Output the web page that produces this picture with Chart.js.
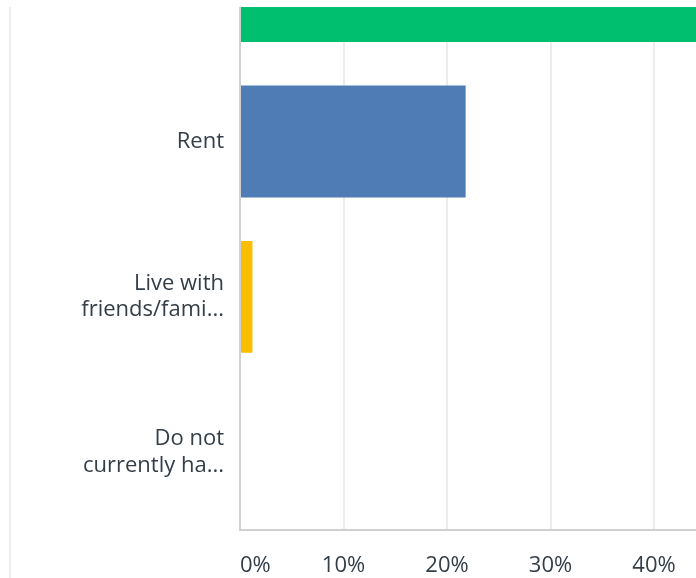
<!DOCTYPE html>
<html>
<head>
<meta charset="utf-8">
<script src="https://cdn.jsdelivr.net/npm/chart.js@4"></script>
<style>
  html, body { margin: 0; padding: 0; background: #fff; overflow: hidden; }
  body { width: 696px; height: 578px; position: relative; }
  /* panel edge on the left */
  #edge { position: absolute; left: 9px; top: 7px; width: 2px; height: 571px; background: #ededed; }
  /* the chart is larger than the visible panel, only part of it shows */
  #wrap { position: absolute; left: 0; top: 7px; width: 696px; height: 571px; overflow: hidden; }
  #chart { position: absolute; left: 0; top: -141px; }
</style>
</head>
<body>
<div id="edge"></div>
<div id="wrap">
  <canvas id="chart" width="1298" height="724"></canvas>
</div>
<script>
// Ответы на вопрос о жилье, в процентах
const categories = [
  'Own',
  'Rent',
  ['Live with', 'friends/fami...'],
  ['Do not', 'currently ha...']
];
const percents = [77.0, 21.8, 1.2, 0];
const barColors = ['#00bf6f', '#507cb6', '#f9be00', '#6bc8cd'];

const textColor = '#333e48';
const labelFont = { family: '"Open Sans", sans-serif', size: 22, lineHeight: 1.2 };

function createHousingChart() {
  const ctx = document.getElementById('chart').getContext('2d');
  new Chart(ctx, {
    type: 'bar',
    data: {
      labels: categories,
      datasets: [{
        data: percents,
        backgroundColor: barColors,
        borderWidth: 0,
        barPercentage: 0.72,
        categoryPercentage: 1
      }]
    },
    options: {
      indexAxis: 'y',
      responsive: false,
      animation: false,
      devicePixelRatio: 1,
      layout: { padding: 0 },
      plugins: {
        legend: { display: false },
        tooltip: { enabled: false }
      },
      scales: {
        y: {
          afterFit: (scale) => { scale.width = 240; },
          grid: { display: false, drawTicks: false },
          border: { color: '#d0d0d0', width: 2 },
          ticks: { color: textColor, font: labelFont, padding: 16 }
        },
        x: {
          min: 0,
          max: 100,
          afterFit: (scale) => { scale.height = 60; },
          grid: { color: '#ececec', lineWidth: 2, drawTicks: false },
          border: { color: '#d0d0d0', width: 2 },
          ticks: {
            stepSize: 10,
            align: 'inner',
            maxRotation: 0,
            padding: 23,
            color: textColor,
            font: labelFont,
            callback: (v) => v + '%'
          }
        }
      }
    }
  });
}

window.addEventListener('load', createHousingChart);
</script>
</body>
</html>
